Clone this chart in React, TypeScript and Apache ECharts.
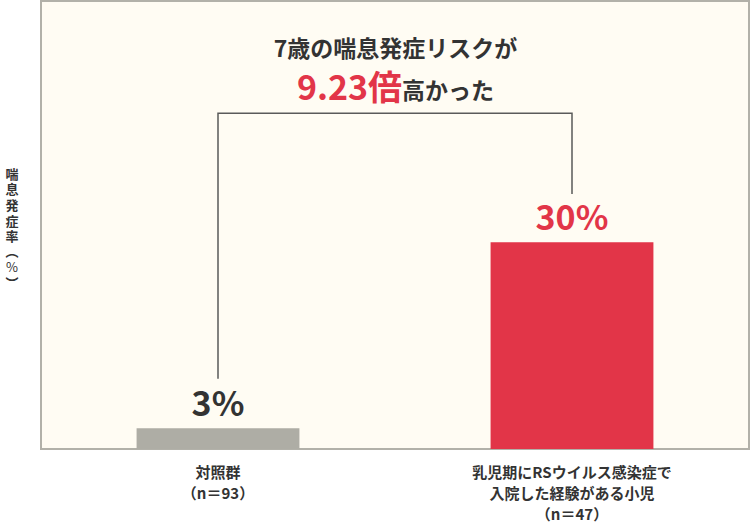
import React, { useEffect, useRef } from 'react';
import * as echarts from 'echarts';

const categories = [
  '対照群\n（n＝93）',
  '乳児期にRSウイルス感染症で\n入院した経験がある小児\n（n＝47）'
];
const rates = [3, 30];
const barColors = ['#aeada5', '#e23548'];
const labelColors = ['#333333', '#e23548'];
const yNameChars = ['喘', '息', '発', '症', '率', '︵', '%', '︶'];
const titleLine1 = '7歳の喘息発症リスクが';
const titleRatio = '9.23倍';
const titleTail = '高かった';

// bracket levels, in percent units of the value axis
const BRACKET_TOP = 48.7;
const BRACKET_LEFT_END = 10.2;
const BRACKET_RIGHT_END = 37;

const FONT = '"Noto Sans CJK JP", "Noto Sans", sans-serif';

// vertical axis name: centre y of each glyph box
const yNameY = (i: number) => (i < 5 ? 173 + i * 15.7 : [250, 266, 282][i - 5]);

const App: React.FC = () => {
  const chartRef = useRef<HTMLDivElement>(null);

  useEffect(() => {
    if (!chartRef.current) return;
    const chart = echarts.init(chartRef.current, null, { renderer: 'svg' });

    chart.setOption({
      animation: false,
      textStyle: { fontFamily: FONT },
      grid: {
        left: 41,
        right: 1,
        top: 1,
        bottom: 75,
        outerBoundsMode: 'none',
        containLabel: false,
        show: true,
        backgroundColor: '#fffcf3',
        borderColor: '#b2b1a9',
        borderWidth: 2
      },
      xAxis: {
        type: 'category',
        data: categories,
        axisLine: { show: false },
        axisTick: { show: false },
        axisLabel: {
          margin: 12,
          color: '#333333',
          fontSize: 15,
          fontWeight: 'bold',
          lineHeight: 21,
          fontFamily: FONT
        }
      },
      yAxis: {
        type: 'value',
        min: 0,
        max: 65,
        show: false,
        splitLine: { show: false }
      },
      series: [{
        type: 'bar',
        barWidth: '46%',
        data: rates.map((v, i) => ({
          value: v,
          itemStyle: { color: barColors[i] },
          label: { color: labelColors[i] }
        })),
        label: {
          show: true,
          position: 'top',
          distance: 10,
          fontSize: 34,
          fontWeight: 'bold',
          fontFamily: FONT,
          formatter: '{c}%'
        }
      }]
    });

    const pL = chart.convertToPixel({ gridIndex: 0 }, [0, BRACKET_LEFT_END]) as number[];
    const pLT = chart.convertToPixel({ gridIndex: 0 }, [0, BRACKET_TOP]) as number[];
    const pRT = chart.convertToPixel({ gridIndex: 0 }, [1, BRACKET_TOP]) as number[];
    const pR = chart.convertToPixel({ gridIndex: 0 }, [1, BRACKET_RIGHT_END]) as number[];
    const midX = (pLT[0] + pRT[0]) / 2 + 0.5;

    chart.setOption({
      graphic: [
        {
          type: 'polyline',
          shape: { points: [pL, pLT, pRT, pR] },
          style: { stroke: '#5a5a5a', lineWidth: 1.5, fill: 'none' },
          z: 10
        },
        {
          type: 'text',
          x: midX,
          y: 47,
          style: {
            text: titleLine1,
            align: 'center',
            verticalAlign: 'middle',
            fontSize: 23,
            fontWeight: 'bold',
            fontFamily: FONT,
            fill: '#333333'
          },
          z: 10
        },
        {
          type: 'text',
          x: midX,
          y: 85,
          style: {
            text: `{a|${titleRatio}}{b|${titleTail}}`,
            align: 'center',
            verticalAlign: 'middle',
            rich: {
              a: { fontSize: 34, fontWeight: 'bold', fontFamily: FONT, fill: '#e23548', verticalAlign: 'bottom' },
              b: { fontSize: 23, fontWeight: 'bold', fontFamily: FONT, fill: '#333333', verticalAlign: 'bottom', padding: [0, 0, 2, 0] }
            }
          },
          z: 10
        },
        ...yNameChars.map((c, i) => ({
          type: 'text',
          x: 12,
          y: yNameY(i),
          style: {
            text: c,
            align: 'center',
            verticalAlign: 'middle',
            fontSize: 13,
            fontWeight: c === '%' ? 'normal' : 'bold',
            fontFamily: FONT,
            fill: '#333333'
          }
        }))
      ]
    });

    return () => {
      chart.dispose();
    };
  }, []);

  return (
    <div
      ref={chartRef}
      style={{ position: 'fixed', left: 0, top: 0, width: 750, height: 524, background: '#ffffff' }}
    />
  );
};

export default App;
